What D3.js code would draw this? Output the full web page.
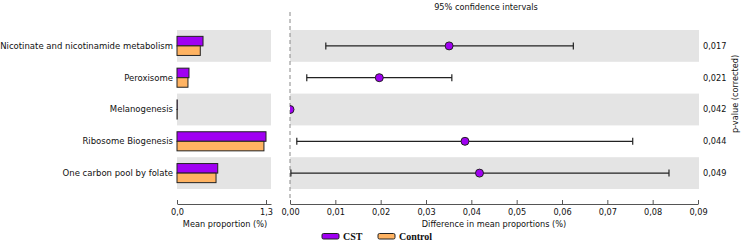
<!DOCTYPE html>
<html>
<head>
<meta charset="utf-8">
<script src="https://cdn.jsdelivr.net/npm/d3@7"></script>
<style>
  body { margin: 0; background: #fff; }
  text { font-family: "DejaVu Sans", Verdana, sans-serif; fill: #111; }
  .legend text { font-family: "Liberation Serif", "Times New Roman", serif; font-weight: bold; }
</style>
</head>
<body>
<svg width="743" height="243"></svg>
<script>
// pathways, top to bottom
const categories = ["Nicotinate and nicotinamide metabolism", "Peroxisome", "Melanogenesis",
                    "Ribosome Biogenesis", "One carbon pool by folate"];
// mean proportions (%)
const cstMean     = [0.38, 0.175, 0.004, 1.30, 0.595];
const controlMean = [0.34, 0.16, 0.003, 1.27, 0.57];
// difference in mean proportions + 95% CI
const diff    = [0.0351, 0.0197, 0.0000, 0.0386, 0.0418];
const ciLow   = [0.0079, 0.0037, 0.0000, 0.0015, 0.0002];
const ciHigh  = [0.0625, 0.0357, 0.0001, 0.0756, 0.0836];
const pValues = ["0,017", "0,021", "0,042", "0,044", "0,049"];
const leftTicks  = [0, 1.3];
const rightTicks = [0, 0.01, 0.02, 0.03, 0.04, 0.05, 0.06, 0.07, 0.08, 0.09];
const groups = ["CST", "Control"];

const purple = "#a000f2", orange = "#ffb362", band = "#e4e4e4";
const fs = 8.2;

let svg = d3.select("svg");

let y = d3.scaleBand().domain(categories).range([30, 189]);
let xl = d3.scaleLinear().domain([0, 1.373]).range([177, 271]);
let xr = d3.scaleLinear().domain([0, 0.09]).range([290, 698]);
let axisY = 204;

// alternating grey rows
categories.forEach(function(c, i) {
  if (i % 2) return;
  svg.append("rect").attr("x", xl.range()[0]).attr("y", y(c))
    .attr("width", xl.range()[1] - xl.range()[0]).attr("height", y.bandwidth()).attr("fill", band);
  svg.append("rect").attr("x", xr.range()[0]).attr("y", y(c))
    .attr("width", 409).attr("height", y.bandwidth()).attr("fill", band);
});

// category labels
svg.append("g").selectAll("text").data(categories).join("text")
  .attr("x", 173).attr("y", d => y(d) + y.bandwidth() / 2)
  .attr("dy", "0.35em").attr("text-anchor", "end").attr("font-size", 8.5)
  .text(d => d);

// bars
let bh = y.bandwidth() * 0.3;
svg.append("g").selectAll("rect").data(categories).join("rect")
  .attr("x", xl(0)).attr("y", d => y(d) + y.bandwidth() / 2 - bh)
  .attr("width", (d, i) => xl(cstMean[i]) - xl(0)).attr("height", bh)
  .attr("fill", purple).attr("stroke", "#222").attr("stroke-width", 1);
svg.append("g").selectAll("rect").data(categories).join("rect")
  .attr("x", xl(0)).attr("y", d => y(d) + y.bandwidth() / 2)
  .attr("width", (d, i) => xl(controlMean[i]) - xl(0)).attr("height", bh)
  .attr("fill", orange).attr("stroke", "#222").attr("stroke-width", 1);

// axes
function drawAxis(scale, ticks, fmt) {
  let g = svg.append("g").attr("transform", "translate(0," + axisY + ")")
    .call(d3.axisBottom(scale).tickValues(ticks).tickFormat(fmt)
      .tickSizeInner(-4).tickSizeOuter(0).tickPadding(5));
  g.select(".domain").attr("stroke", "#555");
  g.selectAll(".tick line").attr("stroke", "#555");
  g.selectAll("text").attr("font-size", fs).attr("fill", "#111");
  return g;
}
drawAxis(xl, leftTicks, d => d3.format(".1f")(d).replace(".", ","));
drawAxis(xr, rightTicks, d => d3.format(".2f")(d).replace(".", ","));

svg.append("text").attr("x", 225).attr("y", 227).attr("text-anchor", "middle")
  .attr("font-size", fs).text("Mean proportion (%)");
svg.append("text").attr("x", 494).attr("y", 227).attr("text-anchor", "middle")
  .attr("font-size", fs).text("Difference in mean proportions (%)");
svg.append("text").attr("x", 486).attr("y", 10).attr("text-anchor", "middle")
  .attr("font-size", fs).text("95% confidence intervals");

// zero line
svg.append("line").attr("x1", xr(0)).attr("x2", xr(0)).attr("y1", 12).attr("y2", 200)
  .attr("stroke", "#888").attr("stroke-dasharray", "4,3");

// confidence intervals
svg.append("defs").append("clipPath").attr("id", "clip")
  .append("rect").attr("x", xr(0)).attr("y", 0).attr("width", 420).attr("height", 243);
let ci = svg.append("g").attr("clip-path", "url(#clip)");
categories.forEach(function(c, i) {
  let cy = y(c) + y.bandwidth() / 2;
  if (ciHigh[i] - ciLow[i] > 0.0005) {
    ci.append("line").attr("x1", xr(ciLow[i])).attr("x2", xr(ciHigh[i]))
      .attr("y1", cy).attr("y2", cy).attr("stroke", "#222").attr("stroke-width", 1.2);
    [ciLow[i], ciHigh[i]].forEach(function(v) {
      ci.append("line").attr("x1", xr(v)).attr("x2", xr(v))
        .attr("y1", cy - 3.5).attr("y2", cy + 3.5).attr("stroke", "#222").attr("stroke-width", 1.2);
    });
  }
  ci.append("circle").attr("cx", xr(diff[i])).attr("cy", cy).attr("r", 4)
    .attr("fill", purple).attr("stroke", "#222").attr("stroke-width", 1);
});

// p-values
svg.append("g").selectAll("text").data(pValues).join("text")
  .attr("x", 703).attr("y", (d, i) => y(categories[i]) + y.bandwidth() / 2)
  .attr("dy", "0.35em").attr("font-size", fs).text(d => d);
svg.append("text").attr("transform", "translate(738,94) rotate(-90)")
  .attr("text-anchor", "middle").attr("font-size", fs).text("p-value (corrected)");

// legend
let legend = svg.append("g").attr("class", "legend");
let lx = [322, 378];
groups.forEach(function(gname, i) {
  legend.append("rect").attr("x", lx[i]).attr("y", 233.5).attr("width", 17).attr("height", 5.5)
    .attr("rx", 1.5).attr("fill", i ? orange : purple).attr("stroke", "#222");
  legend.append("text").attr("x", lx[i] + 21).attr("y", 240).attr("font-size", 10).text(gname);
});
</script>
</body>
</html>
